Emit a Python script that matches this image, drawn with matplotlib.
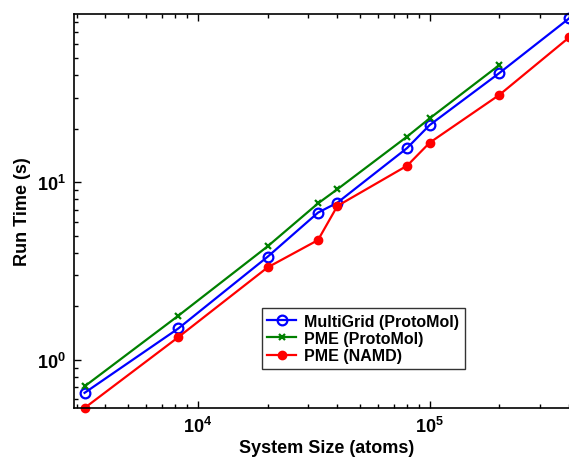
import matplotlib
matplotlib.use("Agg")
import matplotlib.pyplot as plt
from matplotlib.ticker import LogLocator, NullFormatter

plt.rcParams['font.family'] = ['Liberation Sans', 'DejaVu Sans']
plt.rcParams['font.weight'] = 'bold'
plt.rcParams['mathtext.default'] = 'bf'

sizes = [3250, 8250, 20000, 33000, 40000, 80000, 100000, 200000, 400000]
multigrid = [0.65, 1.50, 3.80, 6.74, 7.67, 15.6, 21.0, 41.3, 84.0]
pme_sizes = [3250, 8250, 20000, 33000, 40000, 80000, 100000, 200000]
pme_protomol = [0.707, 1.77, 4.35, 7.6, 9.13, 18.1, 22.9, 45.8]
pme_namd = [0.534, 1.34, 3.31, 4.72, 7.35, 12.4, 16.7, 31.1, 65.6]

labels = ['MultiGrid (ProtoMol)', 'PME (ProtoMol)', 'PME (NAMD)']

W, H = 569, 460
fig = plt.figure(figsize=(W/100, H/100), dpi=100)
ax = fig.add_axes([74/W, (H-409)/H, (580-74)/W, (409-14.7)/H])

ax.plot(sizes, multigrid, color='#0000ff', lw=1.6, marker='o', ms=7,
        mfc='none', mec='#0000ff', mew=1.6, label=labels[0], clip_on=False)
ax.plot(pme_sizes, pme_protomol, color='#008000', lw=1.6, marker='x', ms=5,
        mew=1.6, label=labels[1], clip_on=False)
ax.plot(sizes, pme_namd, color='#ff0000', lw=1.6, marker='o', ms=6,
        mfc='#ff0000', mec='#ff0000', label=labels[2], clip_on=False)

ax.set_xscale('log')
ax.set_yscale('log')
ax.set_xlim(2926, 445000)
ax.set_ylim(0.534, 89.1)

ax.xaxis.set_minor_locator(LogLocator(base=10, subs=range(2, 10)))
ax.yaxis.set_minor_locator(LogLocator(base=10, subs=range(2, 10)))
ax.xaxis.set_minor_formatter(NullFormatter())
ax.yaxis.set_minor_formatter(NullFormatter())
ax.tick_params(which='both', direction='in', top=True, right=True,
               labelsize=13, width=1)
ax.tick_params(which='major', length=5, pad=6)
ax.tick_params(which='minor', length=3)
for s in ax.spines.values():
    s.set_linewidth(1.2)

ax.set_xlabel('System Size (atoms)', fontsize=13, fontweight='bold', labelpad=2)
ax.set_ylabel('Run Time (s)', fontsize=13, fontweight='bold', labelpad=4)

leg = ax.legend(loc='upper left', bbox_to_anchor=((261.7-74)/(580-74), (409-309)/(409-14.7)),
                fontsize=11.5, frameon=True, fancybox=False, edgecolor='black',
                handlelength=1.8, borderpad=0.35, labelspacing=0.15, handletextpad=0.5,
                borderaxespad=0)
leg.get_frame().set_linewidth(1.0)
for t in leg.get_texts():
    t.set_fontweight('bold')

fig.savefig('out.png', dpi=100)
